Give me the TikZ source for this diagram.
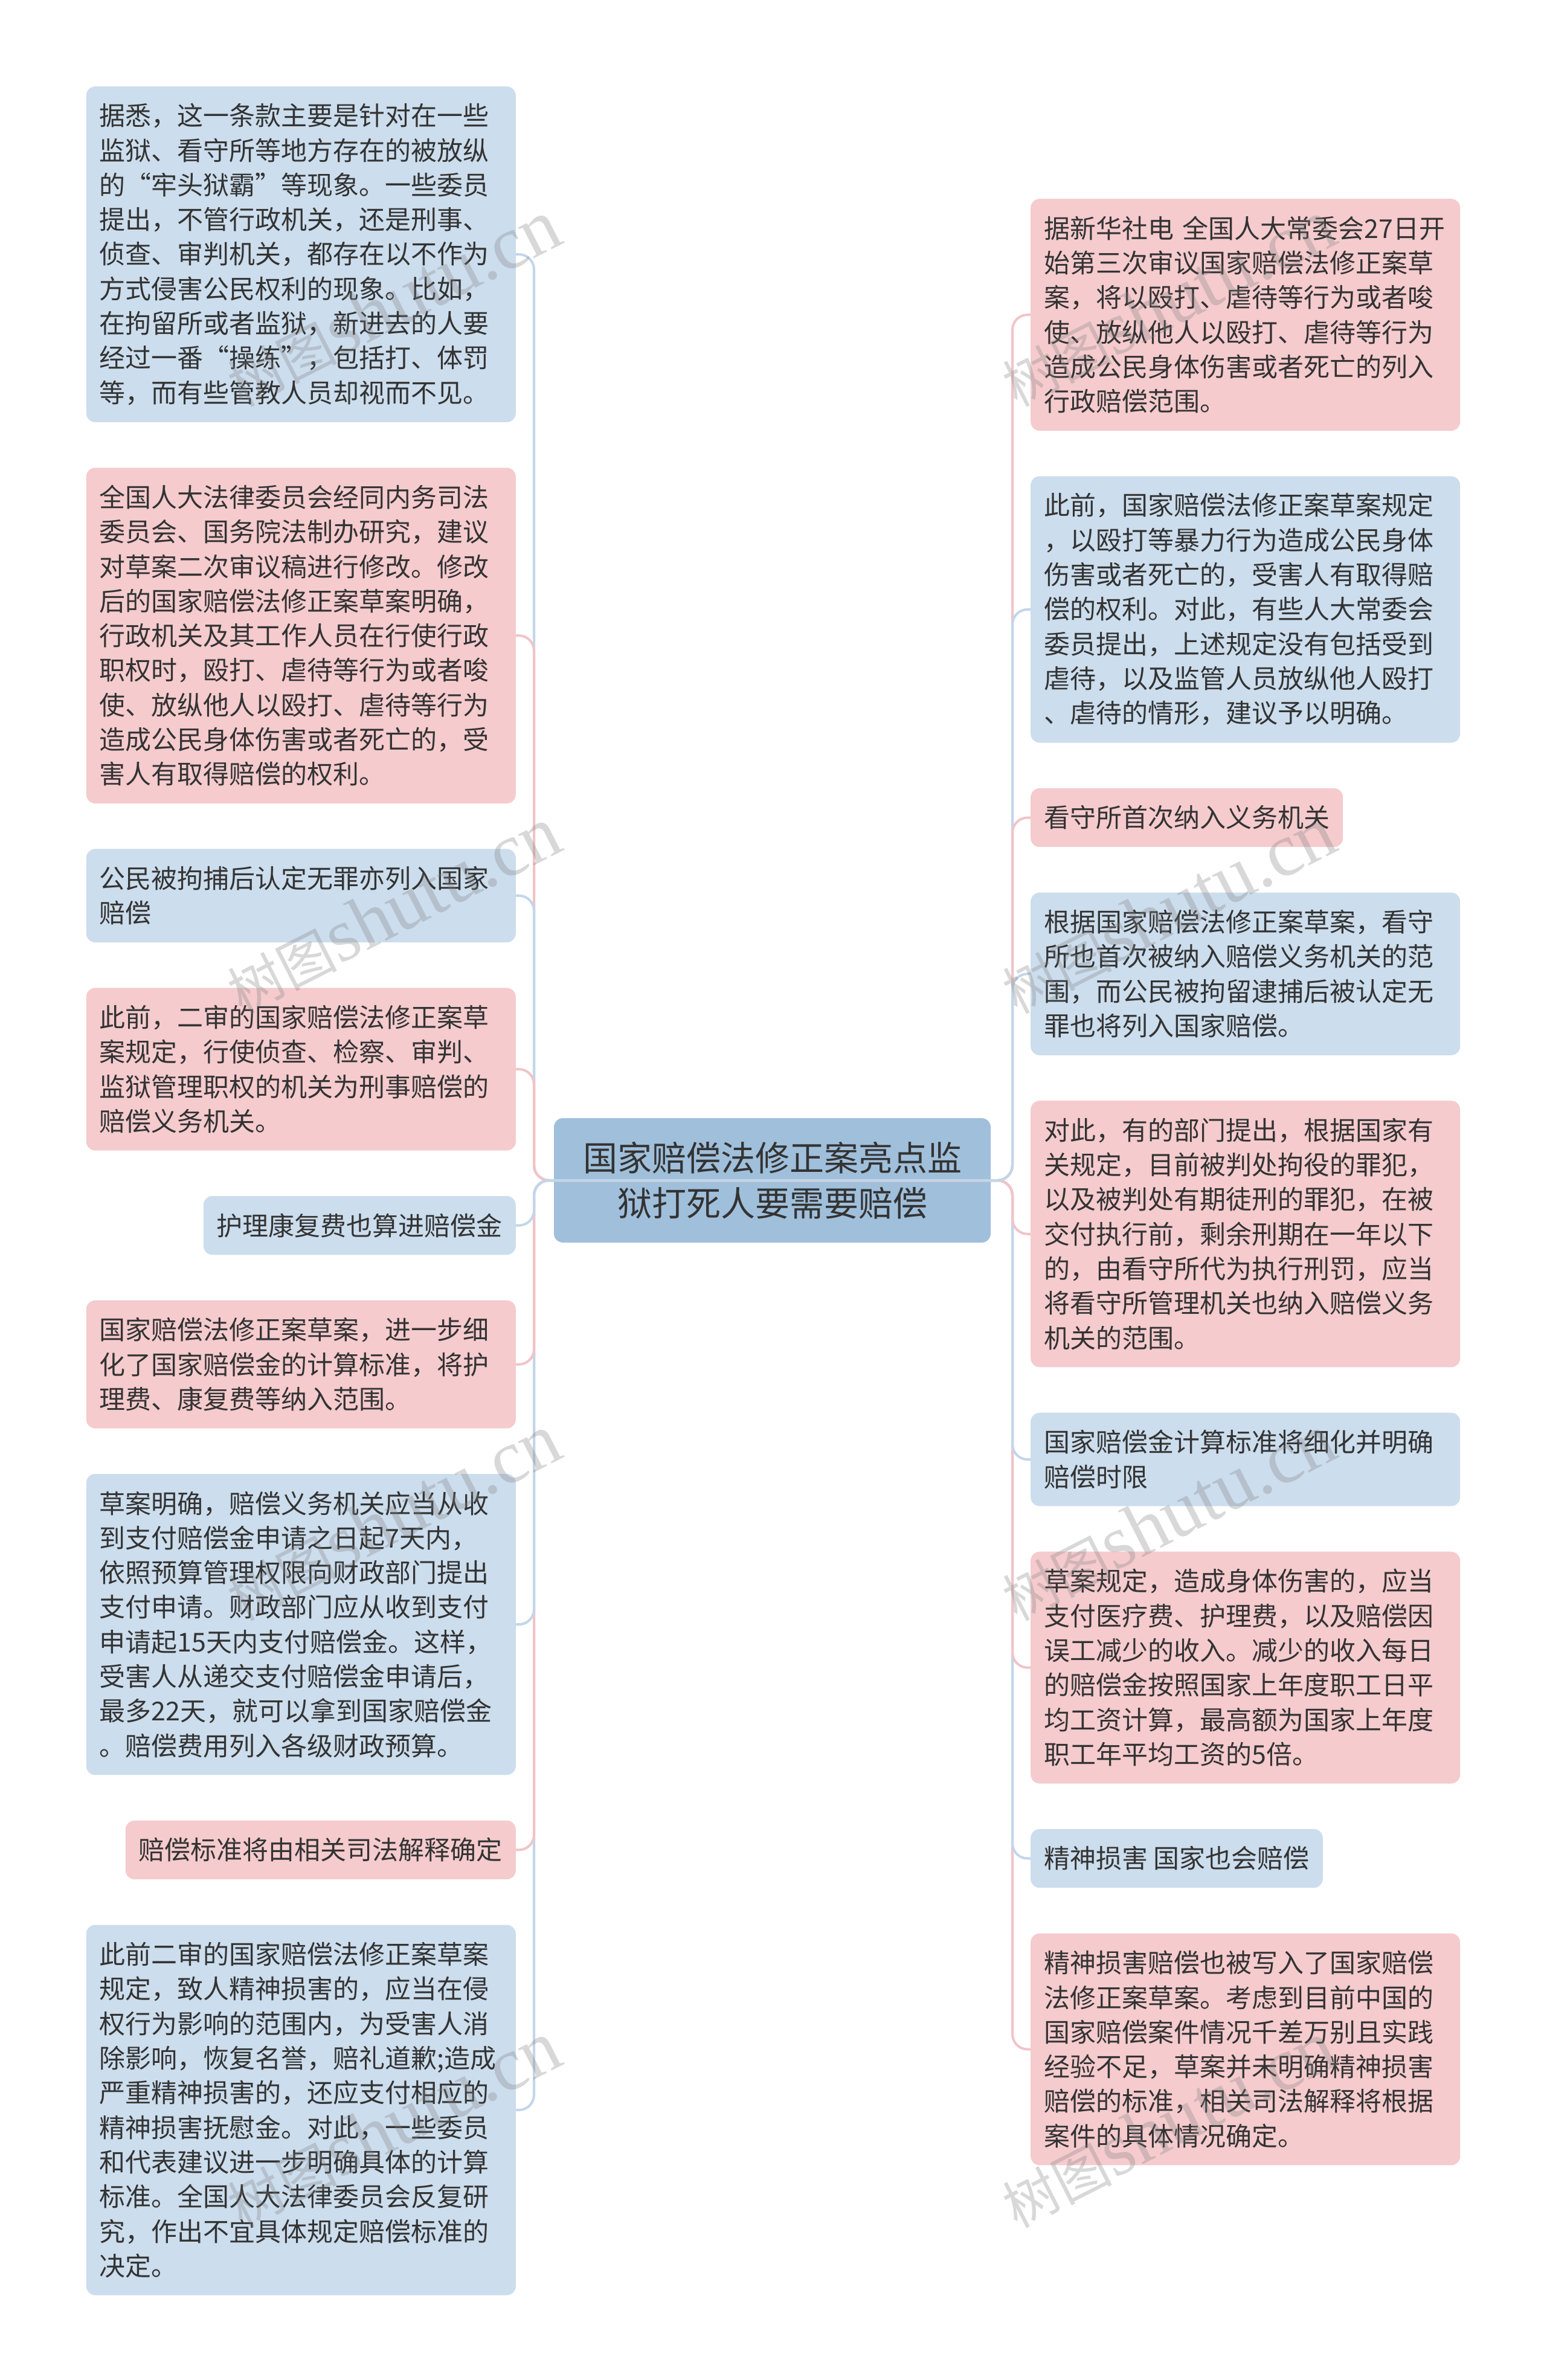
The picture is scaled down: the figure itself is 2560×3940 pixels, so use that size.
\documentclass[tikz,border=0pt]{standalone}
\usepackage{fontspec}
\usepackage{xcolor}
\usetikzlibrary{positioning}
\newfontfamily\cjk{Noto Sans CJK SC}
\newfontfamily\wmfont{Liberation Serif}
\definecolor{boxblue}{HTML}{CCDDED}
\definecolor{boxpink}{HTML}{F5CBCE}
\definecolor{rootblue}{HTML}{A0BFDB}
\definecolor{lineblue}{HTML}{C2D6EA}
\definecolor{linepink}{HTML}{F2C3C8}
\definecolor{textgray}{HTML}{333333}

\begin{document}
\begin{tikzpicture}[x=1pt, y=-1pt]
        % ================= 样式定义 =================
        \tikzset{
            % 中心主题:深一点的蓝色圆角框
            root_box/.style={rectangle, rounded corners=15pt, fill=rootblue, text=textgray, minimum width=723pt, minimum height=206pt, align=center, font=\cjk\fontsize{57pt}{75pt}\selectfont},
            % 分支框:浅蓝或浅粉
            leaf/.style={rectangle, rounded corners=15pt, fill=box#1, text=textgray, inner xsep=22pt, inner ysep=0pt, align=left, font=\cjk\fontsize{43pt}{57.3pt}\selectfont},
            wide/.style={text width=667pt},
            nlines/.style={minimum height={#1*57.3pt+40pt}},
            % 连线:与分支框同色
            link/.style={draw=line#1, line width=4pt, rounded corners=25pt},
            col_left/.style={below left=75pt and 0pt of #1.south east},
            col_right/.style={below right=75pt and 0pt of #1.south west},
            % 水印
            mark_text/.style={rotate=27, text=gray, opacity=0.3, inner sep=0pt}
        }

        \fill[white] (0,0) rectangle (2560,3940);
        \useasboundingbox (0,0) rectangle (2560,3940);

        % ================= 中心主题 =================
        \node[root_box] (root) at (1278.5,1954) {国家赔偿法修正案亮点监\\狱打死人要需要赔偿};

        % ================= 左列 =================
        \node[leaf=blue, wide, nlines=9, anchor=north east] (L1) at (854,143) {据悉，这一条款主要是针对在一些\\
            监狱、看守所等地方存在的被放纵\\
            的“牢头狱霸”等现象。一些委员\\
            提出，不管行政机关，还是刑事、\\
            侦查、审判机关，都存在以不作为\\
            方式侵害公民权利的现象。比如，\\
            在拘留所或者监狱，新进去的人要\\
            经过一番“操练”，包括打、体罚\\
            等，而有些管教人员却视而不见。};
        \node[leaf=pink, wide, nlines=9, col_left=L1] (L2) {全国人大法律委员会经同内务司法\\
            委员会、国务院法制办研究，建议\\
            对草案二次审议稿进行修改。修改\\
            后的国家赔偿法修正案草案明确，\\
            行政机关及其工作人员在行使行政\\
            职权时，殴打、虐待等行为或者唆\\
            使、放纵他人以殴打、虐待等行为\\
            造成公民身体伤害或者死亡的，受\\
            害人有取得赔偿的权利。};
        \node[leaf=blue, wide, nlines=2, col_left=L2] (L3) {公民被拘捕后认定无罪亦列入国家\\
            赔偿};
        \node[leaf=pink, wide, nlines=4, col_left=L3] (L4) {此前，二审的国家赔偿法修正案草\\
            案规定，行使侦查、检察、审判、\\
            监狱管理职权的机关为刑事赔偿的\\
            赔偿义务机关。};
        \node[leaf=blue, nlines=1, col_left=L4] (L5) {护理康复费也算进赔偿金};
        \node[leaf=pink, wide, nlines=3, col_left=L5] (L6) {国家赔偿法修正案草案，进一步细\\
            化了国家赔偿金的计算标准，将护\\
            理费、康复费等纳入范围。};
        \node[leaf=blue, wide, nlines=8, col_left=L6] (L7) {草案明确，赔偿义务机关应当从收\\
            到支付赔偿金申请之日起7天内，\\
            依照预算管理权限向财政部门提出\\
            支付申请。财政部门应从收到支付\\
            申请起15天内支付赔偿金。这样，\\
            受害人从递交支付赔偿金申请后，\\
            最多22天，就可以拿到国家赔偿金\\
            。赔偿费用列入各级财政预算。};
        \node[leaf=pink, nlines=1, col_left=L7] (L8) {赔偿标准将由相关司法解释确定};
        \node[leaf=blue, wide, nlines=10, col_left=L8] (L9) {此前二审的国家赔偿法修正案草案\\
            规定，致人精神损害的，应当在侵\\
            权行为影响的范围内，为受害人消\\
            除影响，恢复名誉，赔礼道歉;造成\\
            严重精神损害的，还应支付相应的\\
            精神损害抚慰金。对此，一些委员\\
            和代表建议进一步明确具体的计算\\
            标准。全国人大法律委员会反复研\\
            究，作出不宜具体规定赔偿标准的\\
            决定。};

        % ================= 右列 =================
        \node[leaf=pink, wide, nlines=6, anchor=north west] (R1) at (1706,329) {据新华社电 全国人大常委会27日开\\
            始第三次审议国家赔偿法修正案草\\
            案，将以殴打、虐待等行为或者唆\\
            使、放纵他人以殴打、虐待等行为\\
            造成公民身体伤害或者死亡的列入\\
            行政赔偿范围。};
        \node[leaf=blue, wide, nlines=7, col_right=R1] (R2) {此前，国家赔偿法修正案草案规定\\
            ，以殴打等暴力行为造成公民身体\\
            伤害或者死亡的，受害人有取得赔\\
            偿的权利。对此，有些人大常委会\\
            委员提出，上述规定没有包括受到\\
            虐待，以及监管人员放纵他人殴打\\
            、虐待的情形，建议予以明确。};
        \node[leaf=pink, nlines=1, col_right=R2] (R3) {看守所首次纳入义务机关};
        \node[leaf=blue, wide, nlines=4, col_right=R3] (R4) {根据国家赔偿法修正案草案，看守\\
            所也首次被纳入赔偿义务机关的范\\
            围，而公民被拘留逮捕后被认定无\\
            罪也将列入国家赔偿。};
        \node[leaf=pink, wide, nlines=7, col_right=R4] (R5) {对此，有的部门提出，根据国家有\\
            关规定，目前被判处拘役的罪犯，\\
            以及被判处有期徒刑的罪犯，在被\\
            交付执行前，剩余刑期在一年以下\\
            的，由看守所代为执行刑罚，应当\\
            将看守所管理机关也纳入赔偿义务\\
            机关的范围。};
        \node[leaf=blue, wide, nlines=2, col_right=R5] (R6) {国家赔偿金计算标准将细化并明确\\
            赔偿时限};
        \node[leaf=pink, wide, nlines=6, col_right=R6] (R7) {草案规定，造成身体伤害的，应当\\
            支付医疗费、护理费，以及赔偿因\\
            误工减少的收入。减少的收入每日\\
            的赔偿金按照国家上年度职工日平\\
            均工资计算，最高额为国家上年度\\
            职工年平均工资的5倍。};
        \node[leaf=blue, nlines=1, col_right=R7] (R8) {精神损害 国家也会赔偿};
        \node[leaf=pink, wide, nlines=6, col_right=R8] (R9) {精神损害赔偿也被写入了国家赔偿\\
            法修正案草案。考虑到目前中国的\\
            国家赔偿案件情况千差万别且实践\\
            经验不足，草案并未明确精神损害\\
            赔偿的标准，相关司法解释将根据\\
            案件的具体情况确定。};

        % ================= 连线 (远的先画,近的后画) =================
        \foreach \n/\c in {R9/pink, R8/blue, R7/pink, R6/blue, R5/pink, R1/pink, R2/blue, R3/pink, R4/blue} {
            \draw[link=\c] (root.center) -| ([xshift=-30pt]\n.west) -- (\n.west);
        }
        \foreach \n/\c in {L1/blue, L2/pink, L3/blue, L4/pink, L9/blue, L8/pink, L7/blue, L6/pink, L5/blue} {
            \draw[link=\c] (root.center) -| ([xshift=30pt]\n.east) -- (\n.east);
        }

        % ================= 水印 =================
        \foreach \wx in {651,1934} {
            \foreach \wy in {1,...,4} {
                \node[mark_text] (wm-\wx-\wy) at (\wx,{502+1005*(\wy-1)}) {{\cjk\fontsize{90pt}{90pt}\selectfont 树图}\,{\wmfont\fontsize{125pt}{125pt}\selectfont shutu.cn}};
            }
        }

    \end{tikzpicture}
\end{document}
